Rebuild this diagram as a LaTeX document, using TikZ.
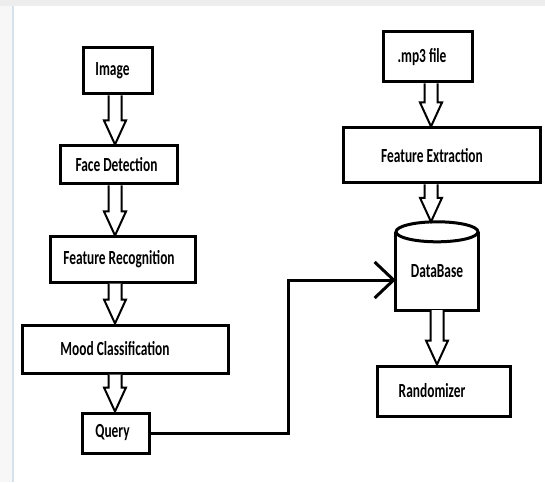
\documentclass[tikz,border=0pt]{standalone}
\usepackage{fontspec}
\setmainfont[FakeStretch=0.67]{Carlito}
\usepackage{tikz}
\usetikzlibrary{calc,arrows.meta}
\definecolor{rulecol}{RGB}{214,225,238}

\begin{document}
\begin{tikzpicture}
[
x=1pt,y=1pt,
font=\fontsize{20}{24}\selectfont\bfseries,
box/.style 2 args={draw,line width=3pt,inner sep=0pt,minimum width=#1,minimum height=#2},
tshift/.style={execute at end node={\hspace*{#1}}},
hollow/.style={draw,line width=2pt,fill=white,
            to path={let \p1=(\tikztostart), \p2=(\tikztotarget) in
                        (\x1-6.5pt,\y1) -- (\x1-6.5pt,\y2+24pt) -- (\x1-11pt,\y2+24pt) -- (\x1,\y2)
                        -- (\x1+11pt,\y2+24pt) -- (\x1+6.5pt,\y2+24pt) -- (\x1+6.5pt,\y1)}
},
barb/.style={line width=3pt,-{Straight Barb[length=19pt,width=36pt,line width=3pt]}},
]
\useasboundingbox (0,0) rectangle (545,482);
%Background
\fill[white] (0,0) rectangle (545,482);
\fill[black!7] (0,476) rectangle (545,482);
\fill[black!3] (0,0) rectangle (12,476);
\draw[rulecol,line width=2pt] (13,0) -- (13,476);

%Place the nodes
\node[box={69pt}{46pt},tshift=10pt] (img) at (117.5,411) {Image};
\node[box={117pt}{38pt},tshift=4pt] (fd) at (118.5,317) {Face Detection};
\node[box={145pt}{45pt},tshift=7pt] (fr) at (122.5,222.5) {Feature Recognition};
\node[box={206pt}{48pt},tshift=20pt] (mc) at (125,133) {Mood Classification};
\node[box={67pt}{40pt},tshift=6pt] (q) at (115.5,49) {Query};
\node[box={89pt}{50pt},tshift=11pt] (mp) at (427.5,425) {.mp3 file};
\node[box={197pt}{55pt},tshift=19pt] (fe) at (441.5,326.5) {Feature Extraction};
\node[inner sep=0pt,minimum width=82pt,minimum height=78pt] (db) at (437,211) {\raisebox{-5pt}{DataBase}};
\node[box={133pt}{50pt},tshift=23pt] (rnd) at (443.5,91) {Randomizer};
\coordinate (lcol) at (115,0);
\coordinate (rcol) at (431,0);
\coordinate (bend) at (288,202);

%Database can
\draw[line width=3pt] (db.north west) -- (db.south west) -- (db.south east) -- (db.north east);
\draw[line width=3pt,fill=white] (db.north) ellipse [x radius=41pt,y radius=10pt];

%Draw the connections
\draw[hollow] (img.south -| lcol) to (fd.north -| lcol);
\draw[hollow] (fd.south -| lcol) to (fr.north -| lcol);
\draw[hollow] (fr.south -| lcol) to (mc.north -| lcol);
\draw[hollow] (mc.south -| lcol) to (q.north -| lcol);
\draw[hollow] (mp.south -| rcol) to (fe.north -| rcol);
\draw[hollow] (fe.south -| rcol) to ($(db.north -| rcol)+(0,10pt)$);
\draw[hollow] (db.south) to (rnd.north);
\draw[barb] (q.east) -| (bend) -- (bend -| db.west);
\end{tikzpicture}
\end{document}
